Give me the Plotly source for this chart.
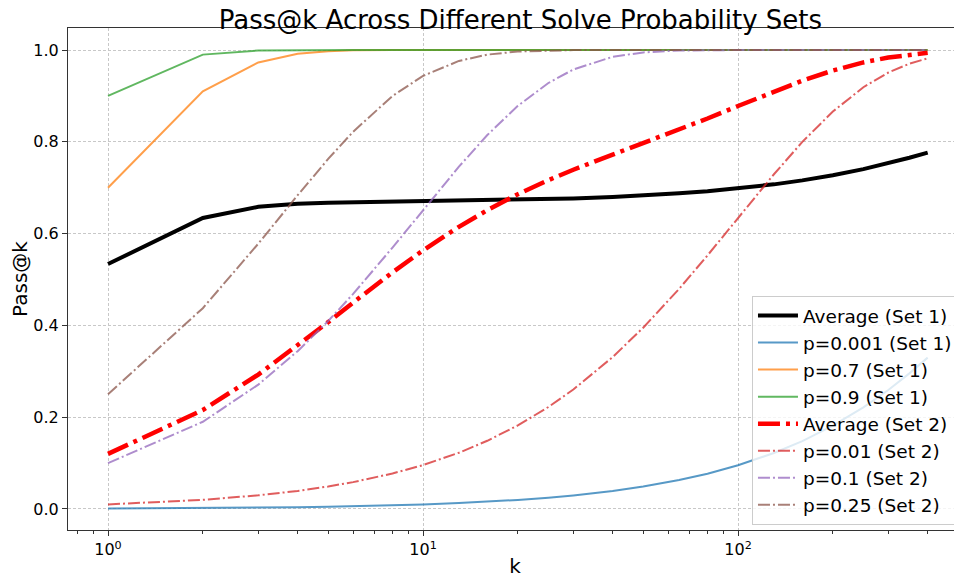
import plotly.graph_objects as go

# sample points of k
k_values = [1, 2, 3, 4, 5, 6, 8, 10, 13, 16, 20, 25, 30, 40, 50, 65, 80, 100,
            130, 160, 200, 250, 300, 350, 400]

# Set 1
avg_set1 = [0.5337, 0.6340, 0.6583, 0.6653, 0.6675, 0.6684, 0.6693, 0.6700, 0.6710,
            0.6720, 0.6733, 0.6749, 0.6765, 0.6797, 0.6829, 0.6877, 0.6923, 0.6984,
            0.7073, 0.7160, 0.7271, 0.7405, 0.7531, 0.7652, 0.7766]
p001_set1 = [0.0010, 0.0020, 0.0030, 0.0040, 0.0050, 0.0060, 0.0080, 0.0100, 0.0129,
             0.0159, 0.0198, 0.0247, 0.0296, 0.0392, 0.0488, 0.0630, 0.0769, 0.0952,
             0.1220, 0.1479, 0.1814, 0.2214, 0.2593, 0.2955, 0.3298]
p07_set1 = [0.7000, 0.9100, 0.9730, 0.9919, 0.9976, 0.9993, 0.9999, 1.0, 1.0, 1.0,
            1.0, 1.0, 1.0, 1.0, 1.0, 1.0, 1.0, 1.0, 1.0, 1.0, 1.0, 1.0, 1.0, 1.0, 1.0]
p09_set1 = [0.9000, 0.9900, 0.9990, 0.9999, 1.0, 1.0, 1.0, 1.0, 1.0, 1.0, 1.0, 1.0,
            1.0, 1.0, 1.0, 1.0, 1.0, 1.0, 1.0, 1.0, 1.0, 1.0, 1.0, 1.0, 1.0]

# Set 2
avg_set2 = [0.1200, 0.2158, 0.2929, 0.3556, 0.4071, 0.4497, 0.5156, 0.5635, 0.6148,
            0.6511, 0.6858, 0.7165, 0.7392, 0.7721, 0.7966, 0.8262, 0.8508, 0.8780,
            0.9098, 0.9333, 0.9553, 0.9730, 0.9837, 0.9901, 0.9940]
p01_set2 = [0.0100, 0.0199, 0.0297, 0.0394, 0.0490, 0.0585, 0.0773, 0.0956, 0.1225,
            0.1486, 0.1821, 0.2222, 0.2603, 0.3310, 0.3950, 0.4796, 0.5525, 0.6340,
            0.7293, 0.7998, 0.8660, 0.9189, 0.9510, 0.9703, 0.9820]
p1_set2 = [0.1000, 0.1900, 0.2710, 0.3439, 0.4095, 0.4686, 0.5695, 0.6513, 0.7458,
           0.8147, 0.8784, 0.9282, 0.9576, 0.9852, 0.9948, 0.9990, 0.9998, 1.0, 1.0,
           1.0, 1.0, 1.0, 1.0, 1.0, 1.0]
p25_set2 = [0.2500, 0.4375, 0.5781, 0.6836, 0.7627, 0.8220, 0.8999, 0.9437, 0.9762,
            0.9900, 0.9968, 0.9992, 0.9998, 1.0, 1.0, 1.0, 1.0, 1.0, 1.0, 1.0, 1.0,
            1.0, 1.0, 1.0, 1.0]

x_tickvals = [1, 10, 100]
x_ticktext = ["10<sup>0</sup>", "10<sup>1</sup>", "10<sup>2</sup>"]
x_minor = [0.8, 0.9, 2, 3, 4, 5, 6, 7, 8, 9, 20, 30, 40, 50, 60, 70, 80, 90,
           200, 300, 400, 500]
y_tickvals = [0.0, 0.2, 0.4, 0.6, 0.8, 1.0]

FONT = "DejaVu Sans"
DASHDOT = "12px,3px,2px,3px"

series = [
    ("Average (Set 1)", avg_set1, "black", 4, "solid", 1.0),
    ("p=0.001 (Set 1)", p001_set1, "#1f77b4", 2, "solid", 0.75),
    ("p=0.7 (Set 1)", p07_set1, "#ff7f0e", 2, "solid", 0.75),
    ("p=0.9 (Set 1)", p09_set1, "#2ca02c", 2, "solid", 0.75),
    ("Average (Set 2)", avg_set2, "#ff0000", 4.5, "22px,6px,4px,6px", 1.0),
    ("p=0.01 (Set 2)", p01_set2, "#d62728", 2, DASHDOT, 0.75),
    ("p=0.1 (Set 2)", p1_set2, "#9467bd", 2, DASHDOT, 0.75),
    ("p=0.25 (Set 2)", p25_set2, "#8c564b", 2, DASHDOT, 0.75),
]

fig = go.Figure()
for name, vals, color, width, dash, alpha in series:
    fig.add_trace(go.Scatter(
        x=k_values, y=vals, mode="lines", name=name, opacity=alpha,
        line=dict(color=color, width=width, dash=dash),
    ))

axis_common = dict(
    showline=True, linecolor="#333333", linewidth=1.2, mirror=True,
    ticks="outside", ticklen=5, tickcolor="#333333",
    showgrid=True, gridcolor="#c8c8c8", griddash="3px,2px", gridwidth=1,
    zeroline=False, tickfont=dict(size=16, color="black"), automargin=False,
)

# the page body adds an 8px margin, so the figure is 8px smaller than the window
fig.update_layout(
    width=954, height=576,
    margin=dict(l=60, r=0, t=20, b=54),
    paper_bgcolor="white", plot_bgcolor="white",
    font=dict(family=FONT, color="black"),
    title=dict(text="Pass@k Across Different Solve Probability Sets",
               x=0.5371, xanchor="center", y=0.996, yanchor="top",
               font=dict(size=26)),
    xaxis=dict(
        type="log", range=[-0.127, 2.711],
        tickvals=x_tickvals, ticktext=x_ticktext,
        title=dict(text="k", font=dict(size=20), standoff=0),
        minor=dict(tickmode="array", tickvals=x_minor, ticks="outside",
                   ticklen=3, tickcolor="#333333", showgrid=False),
        **axis_common,
    ),
    yaxis=dict(
        range=[-0.0458, 1.048], tickvals=y_tickvals, tickformat=".1f",
        title=dict(text="Pass@k", font=dict(size=20), standoff=4),
        **axis_common,
    ),
    legend=dict(
        x=0.9955, xanchor="right", y=0.01, yanchor="bottom",
        bgcolor="rgba(255,255,255,0.8)", bordercolor="#cccccc", borderwidth=1,
        font=dict(size=18.5), tracegroupgap=0, itemwidth=40,
    ),
)

fig.write_html("out.html")
